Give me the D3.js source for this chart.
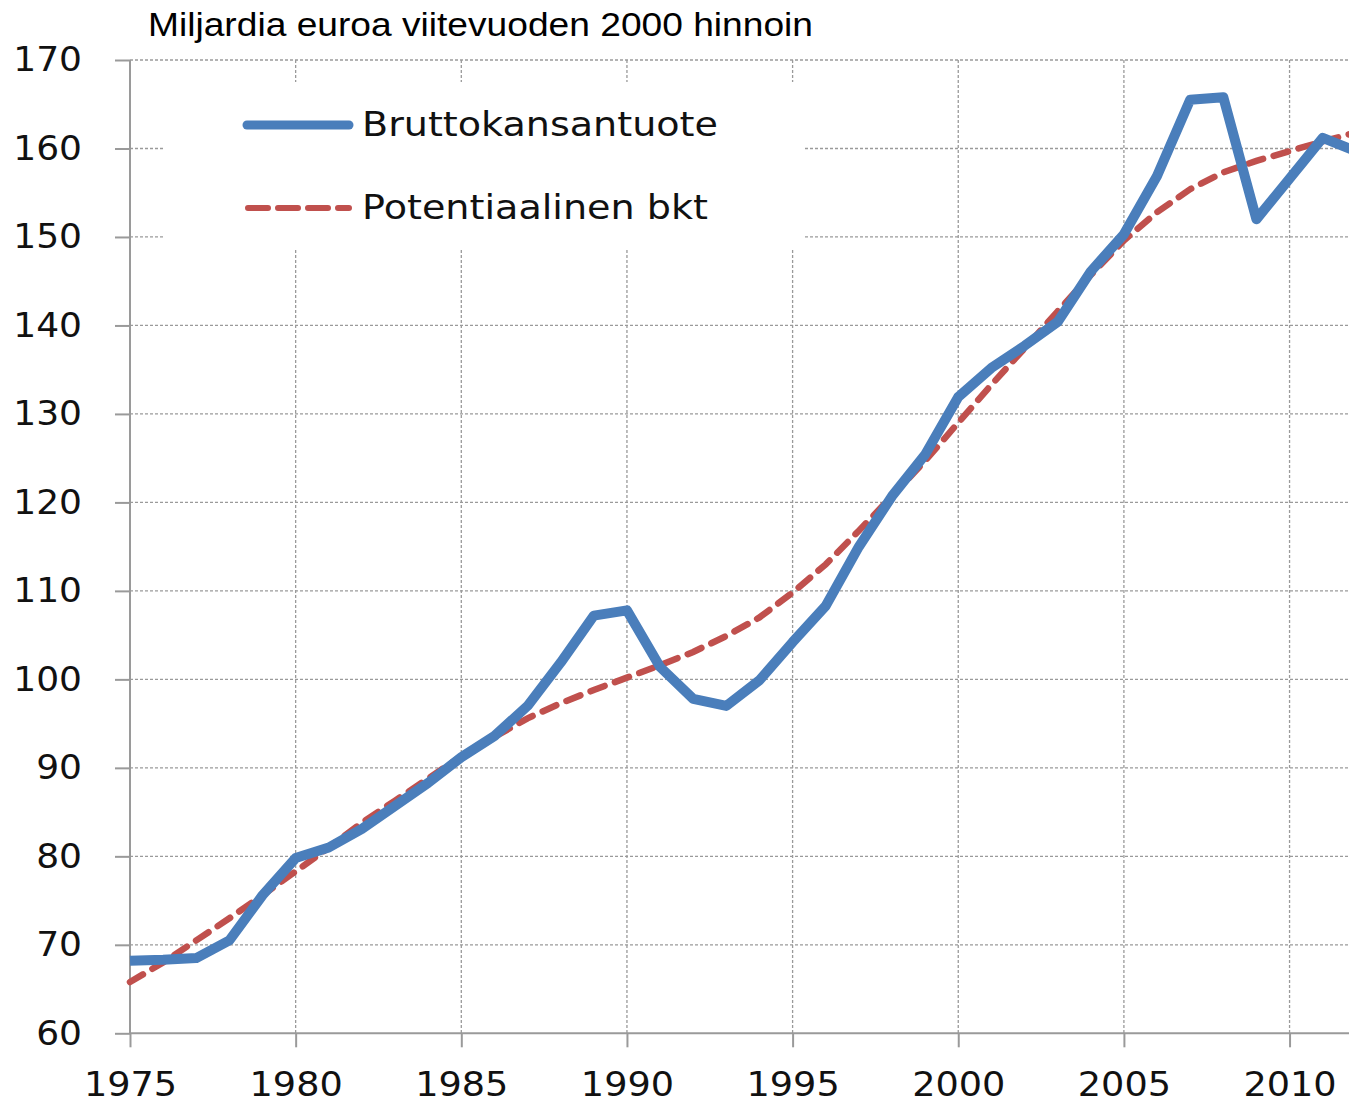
<!DOCTYPE html>
<html><head><meta charset="utf-8">
<script src="https://cdn.jsdelivr.net/npm/d3@7"></script>
<style>body{margin:0;background:#fff;}svg{display:block;}</style>
</head><body>
<svg id="chart" width="1349" height="1105"></svg>
<script>
const years = d3.range(1975, 2013);
const gdp = [68.2,68.3,68.5,70.5,75.6,79.8,81.0,83.1,85.7,88.3,91.2,93.6,97.0,101.9,107.2,107.8,101.4,97.8,97.0,99.9,104.2,108.3,115.0,120.7,125.4,131.9,135.2,137.7,140.4,146.1,150.3,156.9,165.5,165.8,152.0,156.6,161.2,159.7];
const potential = [65.8,68.0,70.5,73.0,75.6,78.3,81.0,83.8,86.3,88.8,91.3,93.5,95.6,97.3,98.8,100.2,101.6,103.1,104.9,107.0,109.8,113.0,116.8,120.7,124.7,129.0,133.3,137.4,141.6,145.7,149.6,152.8,155.4,157.3,158.6,159.7,160.8,161.8];
const yTicks = [60,70,80,90,100,110,120,130,140,150,160,170];
const xTicks = [1975,1980,1985,1990,1995,2000,2005,2010];
const seriesNames = ["Bruttokansantuote","Potentiaalinen bkt"];
const title = "Miljardia euroa viitevuoden 2000 hinnoin";

const svg = d3.select("#chart");
const x = d3.scaleLinear().domain([1975, 2012]).range([130, 130 + 37*33.13]);
const y = d3.scaleLinear().domain([60, 170]).range([1033.3, 60]);
const gridColor = "#9a9a9a";

// grid
const grid = svg.append("g");
grid.selectAll("line.h").data(yTicks.filter(d=>d>60)).enter().append("line")
  .attr("x1", 130).attr("x2", 1349).attr("y1", d=>y(d)).attr("y2", d=>y(d))
  .attr("stroke", gridColor).attr("stroke-width", 1.3).attr("stroke-dasharray", "3,2");
grid.selectAll("line.v").data(xTicks.filter(d=>d>1975)).enter().append("line")
  .attr("x1", d=>x(d)).attr("x2", d=>x(d)).attr("y1", y(170)).attr("y2", y(60))
  .attr("stroke", gridColor).attr("stroke-width", 1.3).attr("stroke-dasharray", "3,2");

// legend background
svg.append("rect").attr("x", 165).attr("y", 82).attr("width", 638).attr("height", 168).attr("fill", "#fff");

// axes
const yAxis = svg.append("g").attr("transform", "translate(130,0)")
  .call(d3.axisLeft(y).tickValues(yTicks).tickSize(15).tickPadding(33).tickFormat(d3.format("d")));
const xAxis = svg.append("g").attr("transform", `translate(0,${y(60)})`)
  .call(d3.axisBottom(x).tickValues(xTicks).tickSize(14).tickPadding(25).tickFormat(d3.format("d")));
function styleAxis(a, fs, sx) {
  a.select(".domain").attr("stroke", gridColor).attr("stroke-width", 2);
  a.selectAll(".tick line").attr("stroke", gridColor).attr("stroke-width", 2);
  a.selectAll("text").attr("fill", "#111").attr("font-family", "DejaVu Sans, Verdana, sans-serif")
    .attr("font-size", fs)
    .each(function(){ const w = this.getComputedTextLength(); d3.select(this).attr("textLength", w*sx).attr("lengthAdjust","spacingAndGlyphs"); });
}
styleAxis(yAxis, 34, 1.06);
styleAxis(xAxis, 33, 1.11);
xAxis.select(".domain").attr("d", `M130,0H1349`);
yAxis.select(".domain").attr("d", `M0,${y(170)}V${y(60)}`);

// lines
const line = vals => d3.line().x((d,i)=>x(years[i])).y(d=>y(d))(vals);
svg.append("path").attr("d", line(potential)).attr("fill","none")
  .attr("stroke", "#c0504d").attr("stroke-width", 6.5).attr("stroke-dasharray", "15,11").attr("stroke-linecap","round");
svg.append("path").attr("d", line(gdp)).attr("fill","none")
  .attr("stroke", "#4a7ebb").attr("stroke-width", 10).attr("stroke-linejoin","round");

// legend
const lg = svg.append("g").attr("font-family", "DejaVu Sans, Verdana, sans-serif").attr("font-size", 33).attr("fill", "#111");
lg.append("line").attr("x1", 247).attr("x2", 349).attr("y1", 125).attr("y2", 125)
  .attr("stroke", "#4a7ebb").attr("stroke-width", 9).attr("stroke-linecap","round");
lg.append("line").attr("x1", 248).attr("x2", 349).attr("y1", 208).attr("y2", 208)
  .attr("stroke", "#c0504d").attr("stroke-width", 6).attr("stroke-dasharray", "20,10").attr("stroke-linecap","round");
lg.append("text").attr("x", 362).attr("y", 136).attr("textLength", 356).attr("lengthAdjust", "spacingAndGlyphs").text(seriesNames[0]);
lg.append("text").attr("x", 362).attr("y", 219).attr("textLength", 346).attr("lengthAdjust", "spacingAndGlyphs").text(seriesNames[1]);

// title
svg.append("text").attr("x", 148).attr("y", 36).attr("font-family", "Liberation Sans, Arial, sans-serif")
  .attr("font-size", 33).attr("fill", "#000").attr("textLength", 665).attr("lengthAdjust", "spacingAndGlyphs").text(title);
</script>
</body></html>
